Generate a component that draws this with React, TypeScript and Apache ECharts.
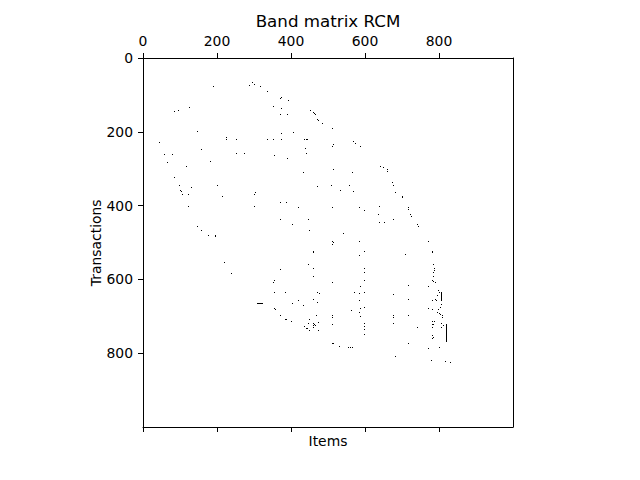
import React, { useEffect, useRef } from "react";
import * as echarts from "echarts";

const TITLE = "Band matrix RCM";
const X_LABEL = "Items";
const Y_LABEL = "Transactions";
const N_ROWS = 1000;
const N_COLS = 1000;
const TICKS = [0, 200, 400, 600, 800];

// non-zero entries [column, row]
const points: number[][] = [
  [189, 76], [287, 73], [295, 65], [300, 70], [316, 76], [335, 89], [370, 108], [373, 106],
  [392, 114], [124, 133], [84, 144], [95, 141], [351, 130], [373, 136], [370, 152], [389, 152],
  [146, 198], [373, 203], [405, 201], [43, 228], [224, 214], [224, 220], [251, 220], [335, 220],
  [351, 220], [373, 220], [157, 247], [57, 260], [78, 260], [251, 258], [273, 258], [354, 263],
  [65, 282], [181, 279], [389, 271], [116, 293], [84, 323], [97, 344], [130, 350], [200, 344],
  [100, 358], [103, 360], [105, 369], [122, 369], [214, 374], [303, 363], [300, 369], [122, 401],
  [300, 401], [370, 390], [387, 390], [419, 404],
  [451, 141], [459, 146], [462, 149], [465, 152], [470, 165], [473, 168], [484, 176], [511, 190],
  [435, 220], [441, 220], [443, 220], [514, 233], [511, 239], [568, 225], [573, 230], [587, 239],
  [438, 244], [441, 258], [432, 309], [514, 301], [565, 309], [641, 293], [649, 295], [660, 301],
  [660, 306], [470, 347], [508, 344], [532, 358], [557, 344], [568, 360], [673, 336], [676, 344],
  [681, 363], [511, 404], [584, 404], [638, 401],
  [700, 374], [700, 377], [597, 412], [635, 423], [638, 444], [651, 444], [676, 436], [716, 404],
  [716, 409], [722, 423], [724, 428], [741, 450], [743, 455], [541, 474], [511, 496], [514, 499],
  [511, 504], [584, 496], [597, 523], [584, 534], [708, 531], [770, 496], [781, 523], [781, 526],
  [597, 569], [597, 580], [784, 558], [787, 569], [787, 575], [784, 580], [784, 591],
  [370, 436], [403, 450], [146, 455], [157, 466], [176, 480], [195, 480], [195, 482], [219, 553],
  [238, 583], [370, 572], [354, 602], [351, 607], [354, 634], [384, 634], [403, 664], [419, 656],
  [354, 678], [357, 680], [370, 697], [384, 707], [387, 707], [400, 713],
  [446, 436], [449, 466], [459, 523], [459, 526], [446, 558], [459, 569], [459, 591], [511, 607],
  [597, 602], [587, 618], [716, 615], [470, 634], [476, 637], [570, 634], [584, 637], [597, 634],
  [676, 640], [432, 669], [459, 653], [470, 661], [584, 656], [716, 653], [562, 683], [587, 678],
  [597, 675], [584, 688], [587, 699], [511, 697], [511, 702], [468, 697], [676, 697], [676, 702],
  [716, 697], [449, 707], [446, 718], [459, 718], [459, 724], [459, 729], [462, 721], [465, 724],
  [473, 715], [435, 726], [441, 732], [443, 732], [449, 737], [473, 737], [511, 721], [597, 718],
  [597, 726], [597, 734], [597, 748], [676, 718], [511, 772], [514, 772], [530, 780], [554, 783],
  [560, 783], [565, 783], [716, 772], [681, 808],
  [781, 602], [784, 604], [789, 607], [770, 618], [797, 629], [800, 634], [795, 642], [781, 656],
  [789, 653], [792, 656], [805, 667], [803, 675], [797, 680], [770, 678], [781, 680], [795, 688],
  [800, 691], [803, 694], [808, 697], [808, 702], [781, 713], [781, 721], [781, 729], [784, 721],
  [787, 713], [805, 718], [805, 729], [811, 724], [741, 729], [781, 751], [781, 759], [784, 756],
  [770, 786], [800, 783], [778, 818], [816, 821], [830, 824],
];

// runs of consecutive non-zeros [col0, row0, col1, row1]
const runs: number[][] = [
  [308, 664, 322, 664],
  [805, 634, 805, 656],
  [819, 721, 819, 767],
];

const FONT = "DejaVu Sans";

export default function App() {
  const ref = useRef<HTMLDivElement>(null);
  useEffect(() => {
    if (!ref.current) return;
    const chart = echarts.init(ref.current, undefined, { renderer: "svg" });
    const axisLine = { show: true, onZero: false, lineStyle: { color: "#000", width: 1 } };
    const labelStyle = { color: "#000", fontSize: 13.9, fontFamily: FONT };
    const tick = { show: true, length: 5, inside: false, customValues: TICKS, lineStyle: { color: "#000", width: 1 } };
    chart.setOption({
      animation: false,
      backgroundColor: "#fff",
      grid: { left: 143, top: 58, width: 370, height: 369 },
      xAxis: [
        {
          type: "value", position: "top", min: 0, max: N_COLS,
          axisLine, splitLine: { show: false }, axisTick: tick,
          axisLabel: { show: true, margin: 10, customValues: TICKS, ...labelStyle },
        },
        {
          type: "value", position: "bottom", min: 0, max: N_COLS,
          axisLine, splitLine: { show: false }, axisTick: tick,
          axisLabel: { show: false },
        },
      ],
      yAxis: [
        {
          type: "value", position: "left", inverse: true, min: 0, max: N_ROWS,
          axisLine, splitLine: { show: false }, axisTick: tick,
          axisLabel: { show: true, margin: 10, customValues: TICKS, ...labelStyle },
        },
        {
          type: "value", position: "right", inverse: true, min: 0, max: N_ROWS,
          axisLine, splitLine: { show: false },
          axisTick: { show: false }, axisLabel: { show: false },
        },
      ],
      graphic: [
        {
          type: "text", x: 328, y: 21,
          style: { text: TITLE, fontSize: 16.7, fontFamily: FONT, fill: "#000", align: "center", verticalAlign: "middle", textAlign: "center", textVerticalAlign: "middle" },
        },
        {
          type: "text", x: 328, y: 440.5,
          style: { text: X_LABEL, fontSize: 13.9, fontFamily: FONT, fill: "#000", align: "center", verticalAlign: "middle", textAlign: "center", textVerticalAlign: "middle" },
        },
        {
          type: "text", x: 95.8, y: 242.8, rotation: Math.PI / 2,
          style: { text: Y_LABEL, fontSize: 13.9, fontFamily: FONT, fill: "#000", align: "center", verticalAlign: "middle", textAlign: "center", textVerticalAlign: "middle" },
        },
      ],
      series: [
        {
          type: "custom", xAxisIndex: 0, yAxisIndex: 0, silent: true,
          data: points,
          encode: { x: 0, y: 1 },
          renderItem: (_p: any, api: any) => {
            const c = api.coord([api.value(0), api.value(1)]);
            return {
              type: "rect",
              shape: { x: Math.round(c[0]), y: Math.round(c[1]), width: 1, height: 1 },
              style: { fill: "#000" },
            };
          },
        },
        {
          type: "custom", xAxisIndex: 0, yAxisIndex: 0, silent: true,
          data: runs,
          encode: { x: [0, 2], y: [1, 3] },
          renderItem: (_p: any, api: any) => {
            const a = api.coord([api.value(0), api.value(1)]);
            const b = api.coord([api.value(2), api.value(3)]);
            const x0 = Math.round(Math.min(a[0], b[0]));
            const y0 = Math.round(Math.min(a[1], b[1]));
            const x1 = Math.round(Math.max(a[0], b[0]));
            const y1 = Math.round(Math.max(a[1], b[1]));
            return {
              type: "rect",
              shape: { x: x0, y: y0, width: x1 - x0 + 1, height: y1 - y0 + 1 },
              style: { fill: "#000" },
            };
          },
        },
      ],
    });
    return () => chart.dispose();
  }, []);
  return (
    <div
      ref={ref}
      style={{ position: "fixed", left: 0, top: 0, width: 640, height: 480, background: "#fff" }}
    />
  );
}
